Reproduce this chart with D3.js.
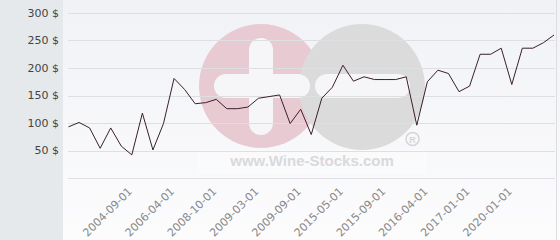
<!DOCTYPE html>
<html>
<head>
<meta charset="utf-8">
<script src="https://cdn.jsdelivr.net/npm/d3@7"></script>
<style>
  html, body { margin: 0; padding: 0; background: #fff; }
  svg { display: block; font-family: "DejaVu Sans", sans-serif; }
</style>
</head>
<body>
<div id="chart"></div>
<script>
// ── Data ─────────────────────────────────────────────────────────
const prices = [
  93, 101, 91, 54, 91, 58, 42, 118, 51, 99,
  181, 161, 135, 137, 143, 126, 126, 129, 145, 148,
  151, 99, 125, 79, 145, 165, 205, 176, 184, 179,
  179, 179, 184, 96, 175, 196, 190, 157, 167, 225,
  225, 236, 170, 236, 236, 246, 260
];
const tickIndex = [6, 10, 14, 18, 22, 26, 30, 34, 38, 42];
const tickLabels = [
  '2004-09-01', '2006-04-01', '2008-10-01', '2009-03-01', '2009-09-01',
  '2015-05-01', '2015-09-01', '2016-04-01', '2017-01-01', '2020-01-01'
];
const yTicks = [0, 50, 100, 150, 200, 250, 300];

// ── Layout ───────────────────────────────────────────────────────
const W = 560, H = 240;
const panelW = 63;
const plot = { left: 68, right: 555, top: 13, bottom: 178 };

const svg = d3.select('#chart').append('svg')
  .attr('width', W)
  .attr('height', H);

const defs = svg.append('defs');
const grad = defs.append('linearGradient')
  .attr('id', 'plot-bg')
  .attr('x1', 0).attr('y1', 0).attr('x2', 0).attr('y2', 1);
grad.append('stop').attr('offset', '0%').attr('stop-color', '#f1f2f6');
grad.append('stop').attr('offset', '100%').attr('stop-color', '#fcfcfd');

svg.append('rect')
  .attr('x', panelW).attr('y', 0)
  .attr('width', W - panelW).attr('height', H)
  .attr('fill', 'url(#plot-bg)');

svg.append('rect')
  .attr('x', 0).attr('y', 0)
  .attr('width', panelW).attr('height', H)
  .attr('fill', '#e6e9ec');

svg.append('line')
  .attr('x1', 556.5).attr('x2', 556.5)
  .attr('y1', 0).attr('y2', H)
  .attr('stroke', '#dcdde2');

// ── Scales ───────────────────────────────────────────────────────
const x = d3.scalePoint()
  .domain(d3.range(prices.length))
  .range([plot.left + 0.5, plot.right - 1]);

const y = d3.scaleLinear()
  .domain([0, 300])
  .range([plot.bottom, plot.top]);

// ── Watermark ────────────────────────────────────────────────────
const wm = svg.append('g').attr('class', 'watermark');
wm.append('rect')
  .attr('x', 197).attr('y', 150).attr('width', 230).attr('height', 24)
  .attr('fill', '#ffffff').attr('opacity', 0.3);
wm.append('circle').attr('cx', 261).attr('cy', 86).attr('r', 62).attr('fill', '#e8cbd2');
wm.append('circle').attr('cx', 362).attr('cy', 87).attr('r', 63).attr('fill', '#dbdbdc');
// plus
wm.append('rect').attr('x', 249).attr('y', 38).attr('width', 24).attr('height', 97)
  .attr('rx', 12).attr('fill', '#f6f6f8');
wm.append('rect').attr('x', 214).attr('y', 74).attr('width', 96).attr('height', 24)
  .attr('rx', 12).attr('fill', '#f6f6f8');
// minus
wm.append('rect').attr('x', 315).attr('y', 74).attr('width', 95).attr('height', 24)
  .attr('rx', 12).attr('fill', '#f6f6f8');
wm.append('circle').attr('cx', 412.5).attr('cy', 139).attr('r', 6.5)
  .attr('fill', 'none').attr('stroke', '#d6d6d8').attr('stroke-width', 1.5);
wm.append('text')
  .attr('x', 412.5).attr('y', 142.5)
  .attr('text-anchor', 'middle')
  .attr('font-family', 'Liberation Sans, sans-serif')
  .attr('font-weight', 'bold')
  .attr('font-size', '9px')
  .attr('fill', '#d6d6d8')
  .text('R');
wm.append('text')
  .attr('x', 312).attr('y', 166)
  .attr('text-anchor', 'middle')
  .attr('font-family', 'Liberation Sans, sans-serif')
  .attr('font-weight', 'bold')
  .attr('font-size', '15px')
  .attr('fill', '#d9d9dc')
  .text('www.Wine-Stocks.com');

// ── Grid + y labels ──────────────────────────────────────────────
svg.append('g')
  .selectAll('line')
  .data(yTicks)
  .join('line')
  .attr('x1', plot.left).attr('x2', plot.right)
  .attr('y1', d => Math.round(y(d)) + 0.5)
  .attr('y2', d => Math.round(y(d)) + 0.5)
  .attr('stroke', '#dedfe3')
  .attr('stroke-width', 1);

svg.append('g')
  .selectAll('text')
  .data(yTicks.filter(d => d > 0))
  .join('text')
  .attr('x', 59)
  .attr('y', d => y(d) + 3.5)
  .attr('text-anchor', 'end')
  .attr('font-size', '11px')
  .attr('fill', '#444')
  .text(d => `${d} $`);

// ── X labels ─────────────────────────────────────────────────────
svg.append('g')
  .selectAll('text')
  .data(tickIndex)
  .join('text')
  .attr('transform', d => `translate(${x(d) + 1},192) rotate(-45)`)
  .attr('text-anchor', 'end')
  .attr('font-size', '11px')
  .attr('fill', '#888')
  .text((d, i) => tickLabels[i]);

// ── Line ─────────────────────────────────────────────────────────
const line = d3.line()
  .x((d, i) => x(i))
  .y(d => y(d));

svg.append('path')
  .datum(prices)
  .attr('d', line)
  .attr('fill', 'none')
  .attr('stroke', '#3b1f2b')
  .attr('stroke-width', 1)
  .attr('stroke-linejoin', 'round');
</script>
</body>
</html>
